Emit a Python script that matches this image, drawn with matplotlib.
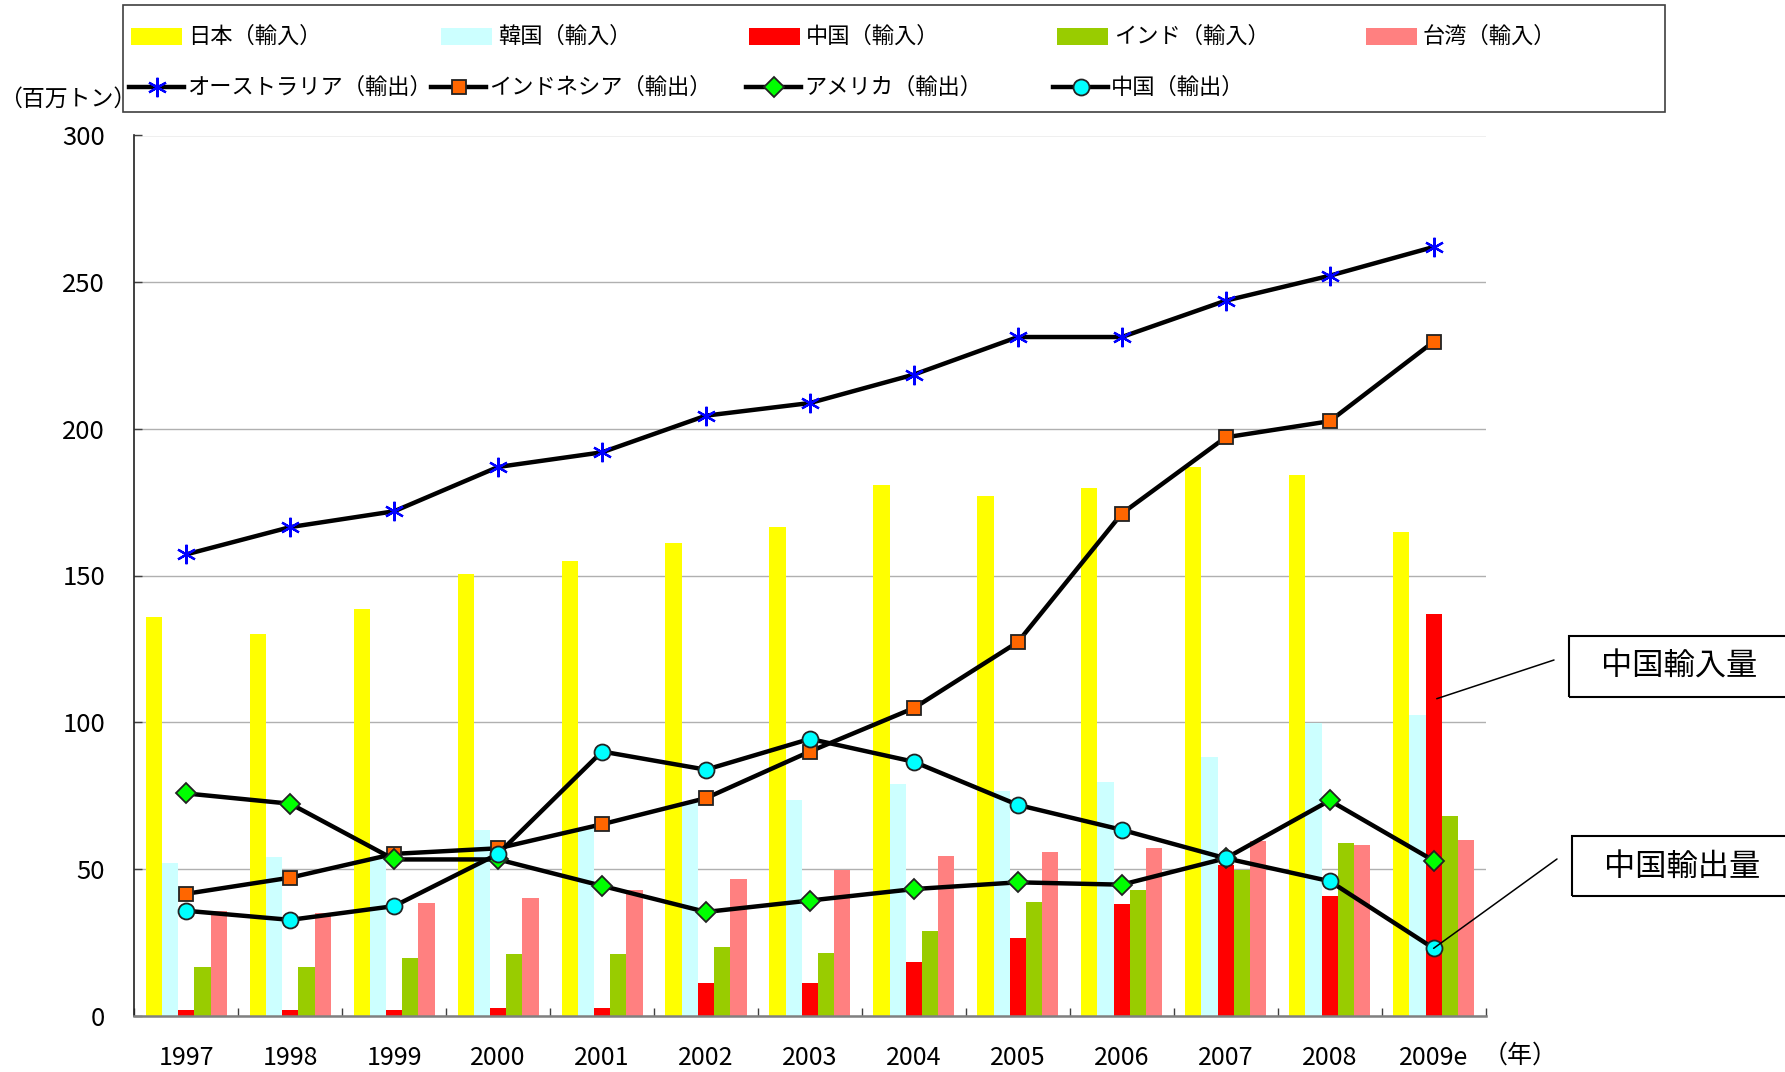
import matplotlib
matplotlib.use("Agg")
import matplotlib.pyplot as plt
from matplotlib.patches import Rectangle
from matplotlib.lines import Line2D
import numpy as np

plt.rcParams['font.family'] = ['Noto Sans CJK JP', 'DejaVu Sans']

years = ["1997", "1998", "1999", "2000", "2001", "2002", "2003",
         "2004", "2005", "2006", "2007", "2008", "2009e"]

# Imports (bars), million tonnes
japan_imp = [136, 130, 138.5, 150.5, 155, 161, 166.5, 181, 177, 179.7, 187, 184.3, 165]
korea_imp = [52, 54, 54, 63.3, 64, 72.7, 73.4, 79, 76.6, 79.7, 88, 99.6, 102.6]
china_imp = [2, 2, 2, 2.7, 2.7, 11, 11.1, 18.2, 26.4, 38, 51.2, 40.6, 137]
india_imp = [16.6, 16.6, 19.6, 21, 21, 23.4, 21.3, 28.9, 38.7, 42.8, 49.7, 58.8, 67.9]
taiwan_imp = [35.5, 34.9, 38.5, 40.2, 42.7, 46.5, 49.7, 54.4, 55.8, 57, 59.5, 58, 60]

# Exports (lines)
australia_exp = [157.2, 166.5, 171.9, 187, 192, 204.5, 208.8, 218.5, 231.3, 231.3, 243.7, 252.2, 262]
indonesia_exp = [41.5, 47, 55.1, 57, 65.2, 74.1, 90, 104.8, 127.3, 171.1, 197.1, 202.6, 229.7]
usa_exp = [75.7, 72.2, 53.2, 53.2, 44.2, 35.3, 39.2, 43.1, 45.4, 44.6, 53.6, 73.3, 52.8]
china_exp = [35.7, 32.6, 37.3, 55.1, 90, 83.8, 94.3, 86.5, 71.8, 63.3, 53.6, 45.8, 22.9]

bar_labels = ["日本（輸入）", "韓国（輸入）", "中国（輸入）", "インド（輸入）", "台湾（輸入）"]
line_labels = ["オーストラリア（輸出）", "インドネシア（輸出）", "アメリカ（輸出）", "中国（輸出）"]
y_ticks = [0, 50, 100, 150, 200, 250, 300]

bar_colors = ["#ffff00", "#ccffff", "#ff0000", "#99cc00", "#ff8080"]

W, H = 1785, 1072
fig = plt.figure(figsize=(W / 100, H / 100), dpi=100)

def fx(px):
    return px / W

def fy(py):
    return 1 - py / H

ax = fig.add_axes([fx(134.3), fy(1015.5), fx(1485.6) - fx(134.3), fy(135.5) - fy(1015.5)])

x = np.arange(len(years))
bw = 0.156
bar_series = [japan_imp, korea_imp, china_imp, india_imp, taiwan_imp]
for i, (vals, col) in enumerate(zip(bar_series, bar_colors)):
    ax.bar(x + (i - 2) * bw, vals, width=bw, color=col, edgecolor='none', zorder=2)

lw = 3.2
ax.plot(x, australia_exp, color='black', lw=lw, marker=(6, 2, 0), markersize=14,
        markeredgecolor='#0000ff', markeredgewidth=1.6, zorder=3)
ax.plot(x, indonesia_exp, color='black', lw=lw, marker='s', markersize=9.5,
        markerfacecolor='#ff6600', markeredgecolor='#222222', markeredgewidth=1.3, zorder=4)
ax.plot(x, usa_exp, color='black', lw=lw, marker='D', markersize=10.5,
        markerfacecolor='#00ff00', markeredgecolor='#222222', markeredgewidth=1.3, zorder=5)
ax.plot(x, china_exp, color='black', lw=lw, marker='o', markersize=11.5,
        markerfacecolor='#00ffff', markeredgecolor='#222222', markeredgewidth=1.3, zorder=6)

ax.set_xlim(-0.5, len(years) - 0.5)
ax.set_ylim(0, 300)
ax.set_yticks(y_ticks)
ax.set_yticklabels([str(v) for v in y_ticks], fontsize=18.5)
ax.set_xticks(x)
ax.set_xticklabels(years, fontsize=18)
ax.set_xticks(np.arange(-0.5, len(years)), minor=True)
ax.tick_params(axis='x', which='major', length=0, pad=21)
ax.tick_params(axis='x', which='minor', direction='in', length=5.8, width=1, color='#404040')
ax.tick_params(axis='y', direction='in', length=5.8, width=1, color='#404040', pad=21)
ax.yaxis.grid(True, color='#b0b0b0', lw=1)
ax.set_axisbelow(True)
for s in ['top', 'right']:
    ax.spines[s].set_visible(False)
ax.spines['left'].set_color('#202020')
ax.spines['left'].set_linewidth(1.2)
ax.spines['bottom'].set_color('#808080')
ax.spines['bottom'].set_linewidth(1.8)

# axis unit labels
fig.text(fx(68), fy(99), "（百万トン）", fontsize=16.5, ha='center', va='center')
fig.text(fx(1520), fy(1056), "（年）", fontsize=18, ha='center', va='center')

# legend (manual grid)
fig.add_artist(Rectangle((fx(123), fy(112)), fx(1665) - fx(123), fy(5) - fy(112),
                         transform=fig.transFigure, fill=False, ec='#404040', lw=1.2))
col_x = [131, 441, 749, 1057, 1366]
row1_y, row2_y = 36, 87
for i, (lab, col) in enumerate(zip(bar_labels, bar_colors)):
    x0 = col_x[i]
    fig.add_artist(Rectangle((fx(x0), fy(row1_y + 8.5)), fx(51), 17 / H,
                             transform=fig.transFigure, fc=col, ec='none'))
    fig.text(fx(x0 + 57), fy(row1_y), lab, fontsize=16, ha='left', va='center')

line_handles_x = [129, 431, 746, 1053]
line_styles = [
    dict(marker=(6, 2, 0), markersize=14, markeredgecolor='#0000ff', markeredgewidth=1.6),
    dict(marker='s', markersize=9.5, markerfacecolor='#ff6600', markeredgecolor='#222222', markeredgewidth=1.3),
    dict(marker='D', markersize=10.5, markerfacecolor='#00ff00', markeredgecolor='#222222', markeredgewidth=1.3),
    dict(marker='o', markersize=11.5, markerfacecolor='#00ffff', markeredgecolor='#222222', markeredgewidth=1.3),
]
for i, (lab, st) in enumerate(zip(line_labels, line_styles)):
    x0 = line_handles_x[i]
    fig.add_artist(Line2D([fx(x0), fx(x0 + 55)], [fy(row2_y), fy(row2_y)],
                          transform=fig.transFigure, color='black', lw=lw))
    fig.add_artist(Line2D([fx(x0 + 27.5)], [fy(row2_y)], transform=fig.transFigure,
                          linestyle='none', **st))
    fig.text(fx(x0 + 58), fy(row2_y), lab, fontsize=16, ha='left', va='center')

# callouts
fig.add_artist(Rectangle((fx(1569), fy(697)), fx(1800) - fx(1569), fy(636) - fy(697),
                         transform=fig.transFigure, fill=False, ec='black', lw=1.5))
fig.text(fx(1679), fy(667), "中国輸入量", fontsize=22.5, ha='center', va='center')
fig.add_artist(Rectangle((fx(1572), fy(896)), fx(1800) - fx(1572), fy(836) - fy(896),
                         transform=fig.transFigure, fill=False, ec='black', lw=1.5))
fig.text(fx(1682), fy(867), "中国輸出量", fontsize=22.5, ha='center', va='center')

ax.annotate('', xy=(12.03, 108), xycoords='data',
            xytext=(fx(1554), fy(660)), textcoords='figure fraction',
            arrowprops=dict(arrowstyle='-', lw=1.1, color='black', shrinkA=0, shrinkB=0),
            zorder=7)
ax.annotate('', xy=(12, china_exp[-1]), xycoords='data',
            xytext=(fx(1557), fy(859)), textcoords='figure fraction',
            arrowprops=dict(arrowstyle='-', lw=1.1, color='black', shrinkA=0, shrinkB=0),
            zorder=7)

fig.savefig("out.png", dpi=100)
